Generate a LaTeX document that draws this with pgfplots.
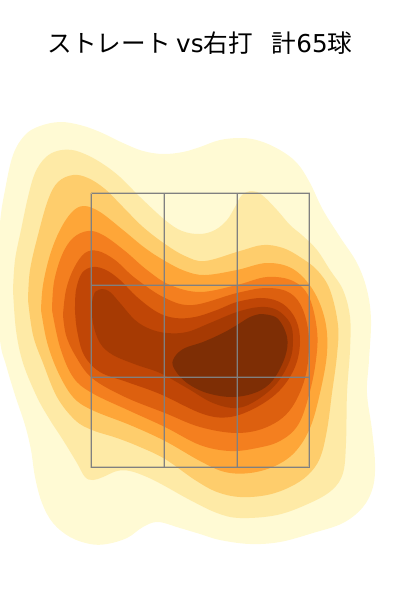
\documentclass[border=0pt]{standalone}
\usepackage{pgfplots}
\usepackage{fontspec}
\pgfplotsset{compat=1.18}
\setmainfont{Noto Sans CJK JP}
\newfontfamily\lat{DejaVu Sans}
\definecolor{c1}{HTML}{FFFAD4}
\definecolor{c2}{HTML}{FEEAA6}
\definecolor{c3}{HTML}{FECD6C}
\definecolor{c4}{HTML}{FEA638}
\definecolor{c5}{HTML}{F47F1F}
\definecolor{c6}{HTML}{DD600F}
\definecolor{c7}{HTML}{C04606}
\definecolor{c8}{HTML}{A63A03}
\definecolor{c9}{HTML}{7E2E05}
\begin{document}
\begin{tikzpicture}
\begin{axis}[width=400pt,height=600pt,scale only axis,hide axis,xmin=0,xmax=400,ymin=0,ymax=600,y dir=reverse,clip=true,
 every axis plot/.append style={no markers,draw=none,smooth,tension=0.6}]
\addplot[draw=none,forget plot] coordinates {(0,0)(400,600)};
\addplot[fill=c1] coordinates {(-3,280)(0,223)(5,190)(13,155)(25,135)(40,126)(60,122)(80,125)(100,132)(123,143)(143,151)(163,154)(183,152)(200,147)(220,140)(242,138)(260,141)(280,150)(297,163)(310,183)(323,210)(340,237)(357,263)(367,290)(371,320)(369,360)(367,393)(372,430)(375,463)(373,487)(363,507)(343,523)(313,533)(280,542)(250,544)(220,540)(200,534)(180,528)(158,522)(143,527)(127,538)(107,544)(90,544)(70,537)(53,523)(42,503)(35,477)(31,450)(25,425)(15,395)(6,365)(0,340)(-3,280)};
\addplot[fill=c2] coordinates {(13,290)(15,260)(21,230)(28,197)(35,173)(45,158)(57,151)(72,150)(87,155)(103,164)(120,177)(140,197)(165,220)(182,231)(200,234)(215,230)(227,220)(235,207)(242,195)(252,191)(262,195)(277,210)(290,225)(303,236)(317,250)(330,270)(343,290)(350,317)(350,350)(347,393)(346,443)(343,473)(332,490)(310,503)(277,515)(240,518)(217,513)(190,500)(163,485)(147,477)(130,471)(117,471)(103,477)(93,480)(85,477)(77,463)(63,440)(50,420)(37,397)(23,363)(16,330)(13,290)};
\addplot[fill=c3] coordinates {(28,300)(30,270)(38,235)(48,200)(58,182)(73,175)(88,178)(105,189)(123,207)(143,227)(165,244)(185,256)(205,261)(240,251)(263,245)(283,248)(300,257)(317,270)(330,290)(338,325)(337,355)(332,393)(327,430)(320,458)(308,475)(290,487)(267,495)(240,497)(217,492)(195,480)(165,459)(140,447)(117,438)(92,430)(75,420)(57,397)(43,363)(33,335)(28,300)};
\addplot[fill=c4] coordinates {(41,310)(43,285)(50,255)(60,230)(72,212)(84,206)(100,212)(123,230)(145,248)(165,261)(185,271)(205,275)(237,270)(267,263)(293,269)(313,290)(325,320)(327,353)(320,393)(310,428)(295,452)(275,466)(250,473)(225,472)(200,461)(165,441)(130,425)(92,410)(73,397)(58,372)(47,342)(41,310)};
\addplot[fill=c5] coordinates {(52,310)(54,282)(62,255)(73,238)(88,231)(103,235)(125,251)(147,270)(170,285)(200,292)(237,285)(267,277)(293,281)(309,297)(317,330)(316,360)(309,395)(298,425)(280,441)(257,448)(230,451)(200,445)(165,427)(130,411)(92,393)(73,377)(60,347)(52,310)};
\addplot[fill=c6] coordinates {(63,315)(66,290)(74,268)(85,253)(98,251)(115,260)(135,278)(165,298)(193,305)(237,293)(267,288)(290,293)(303,310)(309,340)(305,378)(290,410)(267,427)(237,433)(200,427)(165,413)(125,397)(92,378)(75,355)(66,335)(63,315)};
\addplot[fill=c7] coordinates {(75,310)(76,290)(82,273)(93,267)(106,270)(120,280)(137,297)(157,312)(175,318)(195,317)(217,310)(237,302)(263,298)(283,304)(296,320)(300,342)(295,367)(280,390)(257,407)(230,417)(203,414)(160,394)(127,382)(100,372)(84,355)(77,330)(75,310)};
\addplot[fill=c8] coordinates {(95,292)(102,289)(110,292)(120,303)(135,320)(150,329)(167,333)(187,332)(210,323)(237,312)(260,307)(277,310)(290,323)(293,340)(290,360)(277,383)(257,400)(237,408)(213,403)(187,388)(160,373)(137,365)(113,355)(100,343)(93,323)(92,303)(95,292)};
\addplot[fill=c9] coordinates {(260,314)(277,318)(287,337)(285,357)(273,380)(257,392)(233,397)(207,393)(187,383)(175,370)(173,360)(183,349)(203,342)(223,333)(237,325)(250,317)(260,314)};
\pgfplotsset{every axis plot/.append style={smooth=false}}
\addplot[sharp plot,draw=gray,draw opacity=0.35,line width=2.2pt] coordinates {(91.2,193.2)(309.2,193.2)(309.2,467.2)(91.2,467.2)(91.2,193.2)};
\addplot[sharp plot,draw=gray,draw opacity=0.35,line width=2.2pt] coordinates {(164.2,193.2)(164.2,467.2)};
\addplot[sharp plot,draw=gray,draw opacity=0.35,line width=2.2pt] coordinates {(237.2,193.2)(237.2,467.2)};
\addplot[sharp plot,draw=gray,draw opacity=0.35,line width=2.2pt] coordinates {(91.2,285.2)(309.2,285.2)};
\addplot[sharp plot,draw=gray,draw opacity=0.35,line width=2.2pt] coordinates {(91.2,377.2)(309.2,377.2)};
\addplot[sharp plot,draw=gray,line width=1.2pt] coordinates {(91.5,193.5)(309.5,193.5)(309.5,467.5)(91.5,467.5)(91.5,193.5)};
\addplot[sharp plot,draw=gray,line width=1.2pt] coordinates {(164.5,193.5)(164.5,467.5)};
\addplot[sharp plot,draw=gray,line width=1.2pt] coordinates {(237.5,193.5)(237.5,467.5)};
\addplot[sharp plot,draw=gray,line width=1.2pt] coordinates {(91.5,285.5)(309.5,285.5)};
\addplot[sharp plot,draw=gray,line width=1.2pt] coordinates {(91.5,377.5)(309.5,377.5)};
\node[text=black,font=\fontsize{24.6pt}{28pt}\selectfont,inner sep=0pt] at (axis cs:200,43) {ストレート {\lat vs}右打\hspace{19pt}計{\lat 65}球};
\end{axis}
\end{tikzpicture}
\end{document}
